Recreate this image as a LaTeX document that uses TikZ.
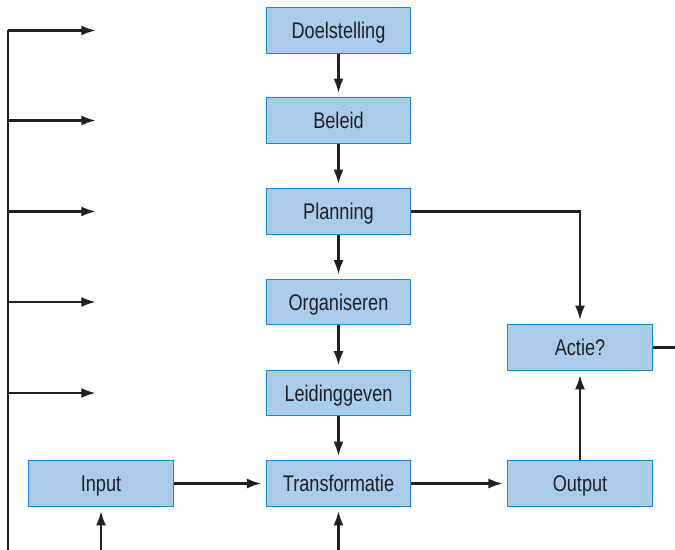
\documentclass[tikz,border=0pt]{standalone}
\usepackage{fontspec}
\setmainfont{Liberation Sans}[FakeStretch=0.8]
\usetikzlibrary{arrows.meta,positioning}
\definecolor{boxfill}{RGB}{170,204,235}
\definecolor{boxline}{RGB}{25,135,205}
\definecolor{ink}{RGB}{35,31,32}

\begin{document}
\begin{tikzpicture}[x=0.75pt,y=-0.75pt,shorten >=3pt,line width=2pt,draw=ink,
    >={Latex[length=11pt,width=7.5pt]}]
  \tikzstyle{stap}=[draw=boxline,fill=boxfill,line width=0.8pt,minimum width=108.5pt,
    minimum height=34pt,inner sep=0pt,text=ink,text height=12.2pt,text depth=0pt,
    font=\fontsize{17}{19}\selectfont]
  \useasboundingbox (0,0) rectangle (675,550);

  \foreach \name/\y/\text in {doel/30.5/Doelstelling, beleid/120.5/Beleid,
                              plan/211.5/Planning, org/302/Organiseren,
                              leid/393/Leidinggeven, trans/483.5/Transformatie}
    \node[stap] (\name) at (338.5,\y) {\text};

  \node[stap] (input) at (101,483.5) {Input};
  \node[stap] (output) at (580,483.5) {Output};
  \node[stap] (actie) at (580,347.5) {Actie?};

  % terugkoppeling links
  \coordinate (links-top) at (8,29.5);
  \coordinate (links-bottom) at (8,550);
  \draw[line width=1.3pt,shorten >=0pt] (links-top) -- (links-bottom);

  \foreach \name/\y in {doel/30.5, beleid/120.5, plan/211.5, org/302, leid/393}
  { \coordinate (L-\name) at (8,\y); \coordinate (R-\name) at (100,\y);
    \draw[->] (L-\name) -- (R-\name); }

  \foreach \from/\to in {doel/beleid, beleid/plan, plan/org, org/leid, leid/trans}
    \draw[->] (\from) -- (\to);

  \draw[->] (input) -- (trans);
  \draw[->] (trans) -- (output);
  \draw[->] (output) -- (actie);
  \draw[->] (plan.east) -| (actie.north);

  \coordinate (actie-uit) at (675,347.5);
  \draw[shorten >=0pt] (actie.east) -- (actie-uit);

  \coordinate (input-in) at (101,550);
  \coordinate (trans-in) at (338.5,550);
  \draw[->] (input-in) -- (input.south);
  \draw[->] (trans-in) -- (trans.south);
\end{tikzpicture}
\end{document}
